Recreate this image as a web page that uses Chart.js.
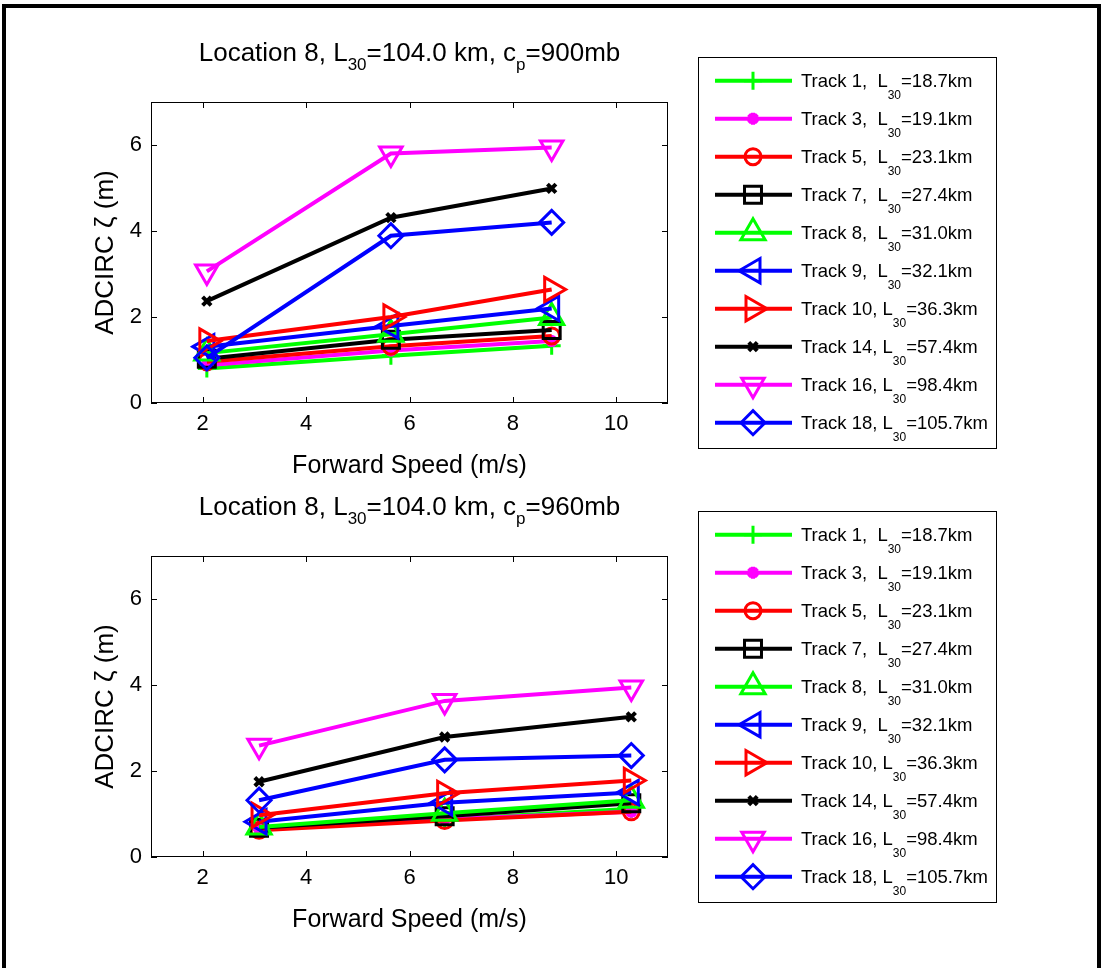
<!DOCTYPE html>
<html lang="en">
<head>
<meta charset="UTF-8">
<title>ADCIRC surge vs forward speed - Location 8</title>
<script src="https://cdn.jsdelivr.net/npm/chart.js"></script>
<style>
  body { margin: 0; background: #fff; }
  #page { position: relative; width: 1102px; height: 968px; overflow: hidden; background: #fff; }
  #frame { position: absolute; left: 2px; top: 4px; width: 1091px; height: 1000px; border: 4px solid #000; }
  canvas { position: absolute; left: 0; }
  #chart900 { top: 0; }
  #chart960 { top: 454px; }
</style>
</head>
<body>
<div id="page">
  <div id="frame"></div>
  <canvas id="chart900" width="1102" height="484"></canvas>
  <canvas id="chart960" width="1102" height="484"></canvas>
</div>

<script>
// Tracks shown in both panels
const trackIds = ['1', '3', '5', '7', '8', '9', '10', '14', '16', '18'];
const trackL30 = ['18.7', '19.1', '23.1', '27.4', '31.0', '32.1', '36.3', '57.4', '98.4', '105.7'];

// cp = 900 mb: forward speed (m/s) and peak surge per track (m)
const speed900 = [2.08, 5.64, 8.75];
const zeta900 = [
  [0.80, 1.10, 1.33],
  [0.88, 1.22, 1.44],
  [0.96, 1.32, 1.56],
  [1.03, 1.47, 1.70],
  [1.16, 1.60, 1.99],
  [1.31, 1.79, 2.20],
  [1.44, 2.00, 2.64],
  [2.37, 4.31, 4.99],
  [3.06, 5.80, 5.94],
  [1.05, 3.89, 4.20]
];

// cp = 960 mb
const speed960 = [3.09, 6.68, 10.29];
const zeta960 = [
  [0.65, 0.87, 1.12],
  [0.65, 0.88, 1.05],
  [0.62, 0.85, 1.05],
  [0.68, 0.95, 1.25],
  [0.70, 1.02, 1.32],
  [0.82, 1.26, 1.50],
  [0.97, 1.48, 1.78],
  [1.75, 2.79, 3.26],
  [2.59, 3.63, 3.94],
  [1.32, 2.26, 2.36]
];

const xTicks = [2, 4, 6, 8, 10];
const yTicks = [0, 2, 4, 6];

// line / marker styling per track
const trackColors = ['#00ff00', '#ff00ff', '#ff0000', '#000000', '#00ff00', '#0000ff', '#ff0000', '#000000', '#ff00ff', '#0000ff'];
const trackMarkers = ['cross', 'star', 'circle', 'rect', 'triangle', 'triangle', 'triangle', 'crossRot', 'triangle', 'rectRot'];
const markerTurn = [0, 0, 0, 0, 0, -90, 90, 0, 180, 0];
const markerRadius = [9, 6, 8, 12, 14, 14, 14, 6, 13, 12];
const markerLine = [3, 4, 3, 3, 3, 3, 3, 4, 3, 3];

const FONT = '"Liberation Sans", Arial, Helvetica, sans-serif';
Chart.defaults.font.family = FONT;
Chart.defaults.color = '#000';

function buildDatasets(speeds, zeta) {
  return trackIds.map((id, i) => ({
    label: 'Track ' + id + ', L30=' + trackL30[i] + 'km',
    data: speeds.map((s, k) => ({ x: s, y: zeta[i][k] })),
    borderColor: trackColors[i],
    backgroundColor: 'rgba(0,0,0,0)',
    borderWidth: 4,
    pointStyle: trackMarkers[i],
    pointRotation: markerTurn[i],
    pointRadius: markerRadius[i],
    pointBorderWidth: markerLine[i],
    pointBorderColor: trackColors[i],
    pointBackgroundColor: 'rgba(0,0,0,0)',
    tension: 0,
    fill: false,
    order: trackIds.length - i   // later tracks drawn on top
  }));
}

// text with subscripts: [{t, sub}]
function richWidth(ctx, parts, size, subSize) {
  let w = 0;
  parts.forEach(p => {
    ctx.font = (p.sub ? subSize : size) + 'px ' + FONT;
    w += ctx.measureText(p.t).width;
  });
  return w;
}
function drawRich(ctx, parts, x, y, size, subSize, drop) {
  parts.forEach(p => {
    ctx.font = (p.sub ? subSize : size) + 'px ' + FONT;
    ctx.fillText(p.t, x, p.sub ? y + drop : y);
    x += ctx.measureText(p.t).width;
  });
}

const panelDecor = {
  id: 'panelDecor',
  afterDraw(chart, args, opts) {
    const { ctx, chartArea: a, scales: { x, y } } = chart;
    ctx.save();

    // axes box with inward ticks on every side
    ctx.strokeStyle = '#000';
    ctx.lineWidth = 1;
    ctx.strokeRect(a.left + 0.5, a.top + 0.5, a.right - a.left - 1, a.bottom - a.top - 1);
    ctx.beginPath();
    x.ticks.forEach(t => {
      const px = Math.round(x.getPixelForValue(t.value)) + 0.5;
      ctx.moveTo(px, a.bottom); ctx.lineTo(px, a.bottom - 6);
      ctx.moveTo(px, a.top); ctx.lineTo(px, a.top + 6);
    });
    y.ticks.forEach(t => {
      const py = Math.round(y.getPixelForValue(t.value)) + 0.5;
      ctx.moveTo(a.left, py); ctx.lineTo(a.left + 6, py);
      ctx.moveTo(a.right, py); ctx.lineTo(a.right - 6, py);
    });
    ctx.stroke();

    // panel title
    ctx.fillStyle = '#000';
    ctx.textBaseline = 'alphabetic';
    ctx.textAlign = 'left';
    const title = [
      { t: 'Location 8, L' }, { t: '30', sub: true },
      { t: '=104.0 km, c' }, { t: 'p', sub: true },
      { t: '=' + opts.pressure + 'mb' }
    ];
    const tw = richWidth(ctx, title, 26, 17);
    drawRich(ctx, title, (a.left + a.right) / 2 - tw / 2, 61, 26, 17, 9);

    // legend box
    const box = { left: 698, top: 57, right: 996, bottom: 448 };
    ctx.lineWidth = 1;
    ctx.strokeStyle = '#000';
    ctx.strokeRect(box.left + 0.5, box.top + 0.5, box.right - box.left, box.bottom - box.top);

    const drawPoint = Chart.helpers.drawPoint;
    chart.data.datasets.forEach((ds, i) => {
      const ly = 80.7 + i * 38.0;
      ctx.strokeStyle = ds.borderColor;
      ctx.lineWidth = ds.borderWidth;
      ctx.beginPath();
      ctx.moveTo(715, ly);
      ctx.lineTo(792, ly);
      ctx.stroke();

      ctx.lineWidth = ds.pointBorderWidth;
      ctx.fillStyle = ds.pointBackgroundColor;
      drawPoint(ctx, {
        pointStyle: ds.pointStyle,
        rotation: ds.pointRotation,
        radius: ds.pointRadius,
        borderWidth: ds.pointBorderWidth
      }, 753, ly);

      ctx.fillStyle = '#000';
      const gap = trackIds[i].length === 1 ? ',  L' : ', L';
      const parts = [
        { t: 'Track ' + trackIds[i] + gap }, { t: '30', sub: true },
        { t: '=' + trackL30[i] + 'km' }
      ];
      drawRich(ctx, parts, 801, ly + 6, 18.5, 12, 12);
    });

    ctx.restore();
  }
};

function makePanel(canvasId, speeds, zeta, pressure) {
  return new Chart(document.getElementById(canvasId), {
    type: 'line',
    data: { datasets: buildDatasets(speeds, zeta) },
    plugins: [panelDecor],
    options: {
      responsive: false,
      animation: false,
      layout: { padding: { left: 80, right: 434, top: 102, bottom: 0 } },
      plugins: {
        legend: { display: false },
        tooltip: { enabled: false },
        panelDecor: { pressure: pressure }
      },
      scales: {
        x: {
          type: 'linear',
          min: 1,
          max: 11,
          afterBuildTicks: s => { s.ticks = xTicks.map(v => ({ value: v })); },
          afterFit: s => { s.height = 81; },
          grid: { display: false, drawTicks: false },
          border: { display: false },
          ticks: { padding: 8, font: { size: 22 }, color: '#000' },
          title: { display: true, text: 'Forward Speed (m/s)', font: { size: 25 }, color: '#000', padding: { top: 0, bottom: 3 } }
        },
        y: {
          type: 'linear',
          min: 0,
          max: 7,
          afterBuildTicks: s => { s.ticks = yTicks.map(v => ({ value: v })); },
          afterFit: s => { s.width = 71; },
          grid: { display: false, drawTicks: false },
          border: { display: false },
          ticks: { padding: 9, font: { size: 22 }, color: '#000' },
          title: { display: true, text: 'ADCIRC ζ (m)', font: { size: 26 }, color: '#000', padding: { top: 10, bottom: 0 } }
        }
      }
    }
  });
}

makePanel('chart900', speed900, zeta900, '900');
makePanel('chart960', speed960, zeta960, '960');
</script>
</body>
</html>
